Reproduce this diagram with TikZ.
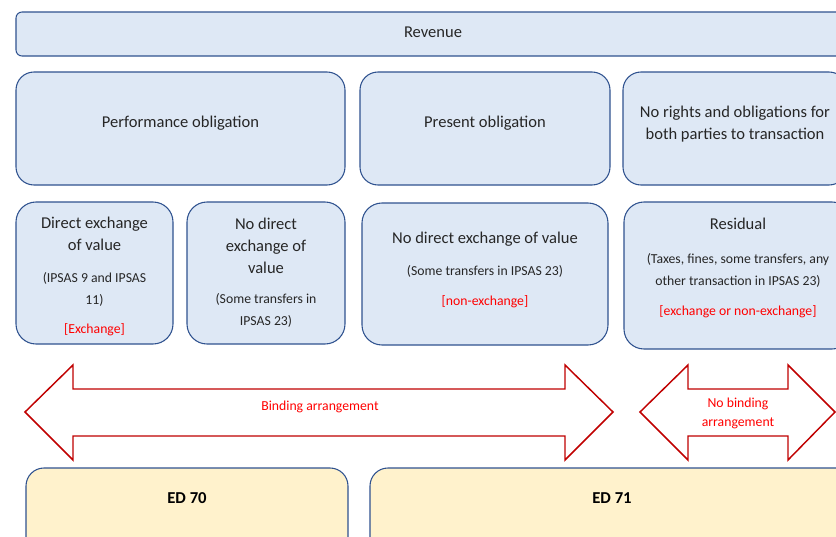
\documentclass[tikz,border=0pt]{standalone}
\usepackage{fontspec}
\setmainfont{Carlito}

\definecolor{boxfill}{RGB}{222,232,245}
\definecolor{boxline}{RGB}{47,82,143}
\definecolor{edfill}{RGB}{255,242,204}
\definecolor{arrline}{RGB}{192,0,0}
\definecolor{tagred}{RGB}{255,0,0}
\definecolor{txtgray}{RGB}{38,38,38}
\newcommand{\sm}{\fontsize{10.3}{14.25}\selectfont}

\begin{document}
\begin{tikzpicture}[x=0.75pt,y=-0.75pt,
  box/.style={draw=boxline,fill=boxfill,line width=0.8pt,rounded corners=13.5pt,inner sep=0pt},
  edbox/.style={box,fill=edfill},
  txt/.style={align=center,text=txtgray,inner sep=0pt,font=\fontsize{12.4}{16.5}\selectfont},
  edtxt/.style={txt,text=black,font=\fontsize{12.5}{15}\selectfont\bfseries},
  redtxt/.style={txt,text=tagred,font=\sm},
  bigarrow/.style={draw=arrline,line width=1.1pt,fill=white,line join=miter}]
\useasboundingbox (0,0) rectangle (836,536);
\clip (0,0) rectangle (836,536);

% revenue
\node (rev) [box,rounded corners=4.5pt,minimum width=625.5pt,minimum height=33pt] at (433,34) {};
\node (revt) [txt] at (433,32) {Revenue};

% obligations
\node (perf) [box,minimum width=246.75pt,minimum height=84.75pt] at (180.5,128.5) {};
\node (pres) [box,minimum width=187.5pt,minimum height=84.75pt] at (485,128.5) {};
\node (norights) [box,minimum width=168pt,minimum height=84.75pt] at (735,128.5) {};
\node (perft) [txt] at (180.5,123) {Performance obligation};
\node (prest) [txt] at (485,123) {Present obligation};
\node (norightst) [txt] at (735,124) {No rights and obligations for\\both parties to transaction};

% kinds of exchange
\node (direct) [box,rounded corners=15pt,minimum width=117.75pt,minimum height=106.5pt] at (94.5,273) {};
\node (nodirect) [box,rounded corners=15pt,minimum width=118.5pt,minimum height=106.5pt] at (266,273) {};
\node (nodirectb) [box,rounded corners=15pt,minimum width=184.5pt,minimum height=106.5pt] at (485,274) {};
\node (resid) [box,rounded corners=15pt,minimum width=171pt,minimum height=110.25pt] at (738,275.5) {};
\node (directt) [txt] at (94.5,276.5) {Direct exchange\\of value\\[7.5pt]\sm (IPSAS 9 and IPSAS\\\sm 11)\\[5pt]\sm\color{tagred}[Exchange]};
\node (nodirectt) [txt] at (266,272.5) {No direct\\exchange of\\value\\[6pt]\sm (Some transfers in\\\sm IPSAS 23)};
\node (nodirectbt) [txt] at (485,270) {No direct exchange of value\\[7pt]\sm (Some transfers in IPSAS 23)\\[6pt]\sm\color{tagred}[non-exchange]};
\node (residt) [txt] at (738,267.5) {Residual\\[9pt]\sm (Taxes, fines, some transfers, any\\\sm other transaction in IPSAS 23)\\[6pt]\sm\color{tagred}[exchange or non-exchange]};

% arrangements
\draw[bigarrow] (25,412) -- (73,365) -- (73,389) -- (565,389) -- (565,365) -- (613,412)
  -- (565,460) -- (565,436) -- (73,436) -- (73,460) -- cycle;
\draw[bigarrow] (640,412) -- (688,365) -- (688,389) -- (788,389) -- (788,365) -- (835,412)
  -- (788,460) -- (788,436) -- (688,436) -- (688,460) -- cycle;
\node (bind) [redtxt] at (320,407) {Binding arrangement};
\node (nobind) [redtxt] at (738,413) {No binding\\arrangement};

% exposure drafts
\node (ed70) [edbox,minimum width=241.5pt,minimum height=78pt] at (187,520) {};
\node (ed71) [edbox,minimum width=363pt,minimum height=78pt] at (612,520) {};
\node (ed70t) [edtxt] at (187,498) {ED 70};
\node (ed71t) [edtxt] at (612,498) {ED 71};
\end{tikzpicture}
\end{document}
